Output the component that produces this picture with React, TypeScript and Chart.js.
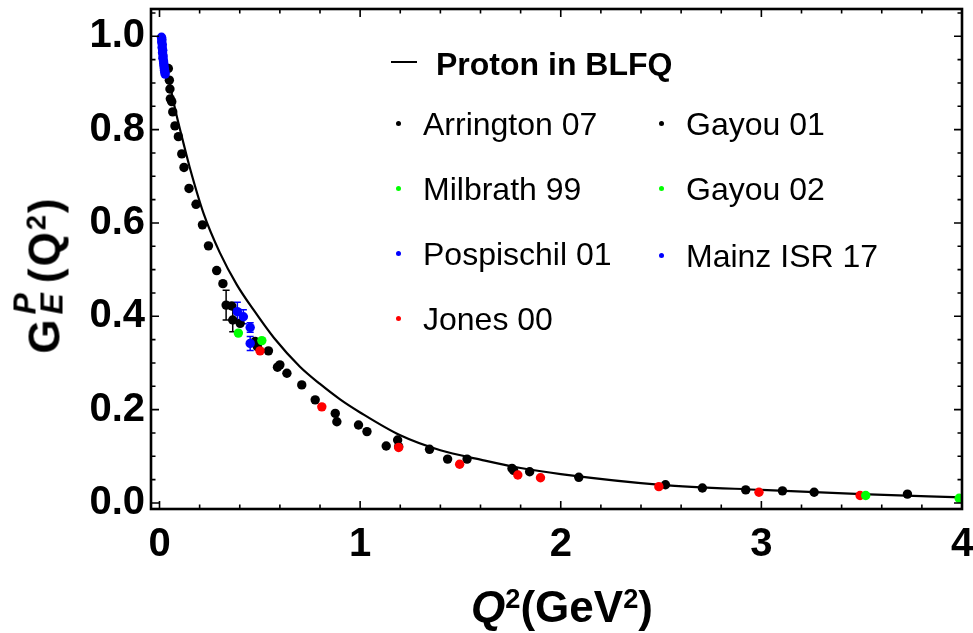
import React, { useEffect, useRef } from 'react';
import { Chart, registerables } from 'chart.js';
Chart.register(...registerables);

const FONT = '"Liberation Sans", Arial, Helvetica, sans-serif';

// Axis ticks
const X_TICKS = [0, 1, 2, 3, 4];
const Y_TICKS = [0, 0.2, 0.4, 0.6, 0.8, 1.0];

// Proton in BLFQ (theory curve)
const BLFQ_Q2 = [0, 0.02, 0.05, 0.08, 0.12, 0.15, 0.22, 0.3, 0.385, 0.47, 0.57, 0.7, 0.8, 0.9, 1.0, 1.2, 1.4, 1.6, 1.8, 2.0, 2.5, 3.0, 3.5, 4.0];
const BLFQ_GE = [1.0, 0.96, 0.9, 0.84, 0.77, 0.72, 0.62, 0.537, 0.468, 0.413, 0.354, 0.292, 0.255, 0.222, 0.194, 0.145, 0.113, 0.093, 0.075, 0.062, 0.039, 0.028, 0.019, 0.012];

// Arrington 07 (black)
const ARRINGTON_Q2 = [0.044, 0.049, 0.052, 0.054, 0.061, 0.066, 0.077, 0.094, 0.111, 0.122, 0.147, 0.182, 0.214, 0.244, 0.285, 0.316, 0.332, 0.36, 0.365, 0.402, 0.477, 0.543, 0.588, 0.6, 0.635, 0.709, 0.876, 0.884, 0.992, 1.034, 1.13, 1.192, 1.346, 1.533, 1.765, 1.845, 2.09, 2.522, 2.706, 2.922, 3.105, 3.263, 3.728];
const ARRINGTON_GE = [0.931, 0.906, 0.887, 0.866, 0.86, 0.838, 0.808, 0.785, 0.748, 0.719, 0.674, 0.64, 0.596, 0.551, 0.498, 0.47, 0.424, 0.422, 0.392, 0.385, 0.346, 0.326, 0.291, 0.296, 0.278, 0.253, 0.192, 0.174, 0.167, 0.153, 0.122, 0.121, 0.115, 0.094, 0.07, 0.067, 0.055, 0.039, 0.032, 0.028, 0.026, 0.023, 0.019];
const ARRINGTON_ERR = [0, 0, 0, 0, 0, 0, 0, 0, 0, 0, 0, 0, 0, 0, 0, 0, 0.032, 0, 0.025, 0, 0, 0, 0, 0, 0, 0, 0, 0, 0, 0, 0, 0, 0, 0, 0, 0, 0, 0, 0, 0, 0, 0, 0];

// Gayou 01 (black)
const GAYOU01_Q2 = [0.488, 0.776, 1.187, 1.436, 1.757];
const GAYOU01_GE = [0.335, 0.221, 0.135, 0.094, 0.074];

// Milbrath 99 (green)
const MILBRATH_Q2 = [0.393, 0.51];
const MILBRATH_GE = [0.364, 0.348];

// Gayou 02 (green)
const GAYOU02_Q2 = [3.52, 3.986];
const GAYOU02_GE = [0.016, 0.01];

// Pospischil 01 (blue)
const POSPISCHIL_Q2 = [0.388, 0.418, 0.452, 0.452];
const POSPISCHIL_GE = [0.41, 0.399, 0.376, 0.342];
const POSPISCHIL_ERR = [0.02, 0.015, 0.01, 0.015];

// Mainz ISR 17 (blue)
const MAINZ_Q2 = [0.010, 0.012, 0.011, 0.014, 0.013, 0.016, 0.015, 0.018, 0.017, 0.020, 0.021, 0.022, 0.024, 0.025, 0.027, 0.028];
const MAINZ_GE = [0.998, 0.993, 0.988, 0.982, 0.976, 0.97, 0.965, 0.958, 0.953, 0.947, 0.942, 0.937, 0.931, 0.927, 0.923, 0.919];

// Jones 00 (red)
const JONES_Q2 = [0.501, 0.809, 1.192, 1.496, 1.786, 1.899, 2.489, 2.988, 3.492];
const JONES_GE = [0.326, 0.206, 0.119, 0.083, 0.06, 0.054, 0.035, 0.023, 0.016];

const BLACK = '#000000';
const GREEN = '#00ff00';
const BLUE = '#0000ff';
const RED = '#ff0000';

function pts(xs: number[], ys: number[], errs?: number[]) {
  return xs.map((x, i) => ({ x, y: ys[i], err: errs ? errs[i] : 0 }));
}

function scatterDs(label: string, xs: number[], ys: number[], color: string, errs?: number[]) {
  return {
    type: 'scatter' as const,
    label,
    data: pts(xs, ys, errs),
    backgroundColor: color,
    borderColor: color,
    borderWidth: 0,
    pointRadius: 4.7,
    pointHoverRadius: 4.7,
    showLine: false,
  };
}

const errorBarPlugin = {
  id: 'errorBars',
  beforeDatasetsDraw(chart: any) {
    const { ctx, scales } = chart;
    const xs = scales.x;
    const ys = scales.y;
    ctx.save();
    ctx.lineWidth = 1.5;
    chart.data.datasets.forEach((ds: any) => {
      ds.data.forEach((p: any) => {
        if (!p.err) return;
        const px = xs.getPixelForValue(p.x);
        const y1 = ys.getPixelForValue(p.y - p.err);
        const y2 = ys.getPixelForValue(p.y + p.err);
        ctx.strokeStyle = ds.borderColor;
        ctx.beginPath();
        ctx.moveTo(px, y1);
        ctx.lineTo(px, y2);
        ctx.moveTo(px - 3.5, y1);
        ctx.lineTo(px + 3.5, y1);
        ctx.moveTo(px - 3.5, y2);
        ctx.lineTo(px + 3.5, y2);
        ctx.stroke();
      });
    });
    ctx.restore();
  },
};

const framePlugin = {
  id: 'frameTicks',
  afterDatasetsDraw(chart: any) {
    const { ctx, chartArea, scales } = chart;
    const { left, right, top, bottom } = chartArea;
    const xs = scales.x;
    const ys = scales.y;
    ctx.save();
    ctx.strokeStyle = '#000';
    ctx.lineWidth = 1.6;
    ctx.beginPath();
    for (let i = 0; i <= 20; i++) {
      const v = i * 0.2;
      const major = i % 5 === 0;
      const len = major ? 8 : 4.5;
      const p = xs.getPixelForValue(v);
      ctx.moveTo(p, bottom);
      ctx.lineTo(p, bottom - len);
      ctx.moveTo(p, top);
      ctx.lineTo(p, top + len);
    }
    for (let i = 0; i <= 21; i++) {
      const v = i * 0.05;
      const major = i % 4 === 0;
      const len = major ? 8 : 4.5;
      const p = ys.getPixelForValue(v);
      ctx.moveTo(left, p);
      ctx.lineTo(left + len, p);
      ctx.moveTo(right, p);
      ctx.lineTo(right - len, p);
    }
    ctx.stroke();
    ctx.lineWidth = 2.6;
    ctx.strokeRect(left, top, right - left, bottom - top);
    ctx.restore();
  },
};

const tickFont = { family: FONT, size: 40, weight: 'bold' as const };

function zeroPad(s: any) {
  s.paddingLeft = 0;
  s.paddingRight = 0;
  s.paddingTop = 0;
  s.paddingBottom = 0;
}

export default function App() {
  const ref = useRef<HTMLCanvasElement>(null);
  useEffect(() => {
    document.body.style.margin = '0';
    const canvas = ref.current!;
    const chart = new Chart(canvas, {
      type: 'scatter',
      data: {
        datasets: [
          scatterDs('Mainz ISR 17', MAINZ_Q2, MAINZ_GE, BLUE),
          scatterDs('Gayou 02', GAYOU02_Q2, GAYOU02_GE, GREEN),
          scatterDs('Pospischil 01', POSPISCHIL_Q2, POSPISCHIL_GE, BLUE, POSPISCHIL_ERR),
          scatterDs('Milbrath 99', MILBRATH_Q2, MILBRATH_GE, GREEN),
          scatterDs('Jones 00', JONES_Q2, JONES_GE, RED),
          scatterDs('Gayou 01', GAYOU01_Q2, GAYOU01_GE, BLACK),
          scatterDs('Arrington 07', ARRINGTON_Q2, ARRINGTON_GE, BLACK, ARRINGTON_ERR),
          {
            type: 'line' as const,
            label: 'Proton in BLFQ',
            data: pts(BLFQ_Q2, BLFQ_GE),
            borderColor: BLACK,
            backgroundColor: BLACK,
            borderWidth: 2.2,
            pointRadius: 0,
            showLine: true,
            fill: false,
            cubicInterpolationMode: 'monotone' as const,
          } as any,
        ],
      },
      options: {
        responsive: false,
        animation: false,
        devicePixelRatio: 1,
        layout: { padding: { top: 9, right: 11, left: 0, bottom: 0 } },
        plugins: { legend: { display: false }, tooltip: { enabled: false } },
        scales: {
          x: {
            type: 'linear',
            min: -0.0424,
            max: 4.0,
            grid: { display: false, drawTicks: false },
            border: { display: false },
            afterBuildTicks: (s: any) => { s.ticks = X_TICKS.map((v) => ({ value: v })); },
            afterFit: (s: any) => { s.height = 124; zeroPad(s); },
            ticks: {
              color: '#000',
              font: tickFont,
              padding: 12,
              maxRotation: 0,
              callback: (v: any) => String(v),
            },
          },
          y: {
            type: 'linear',
            min: -0.0129,
            max: 1.0585,
            grid: { display: false, drawTicks: false },
            border: { display: false },
            afterBuildTicks: (s: any) => { s.ticks = Y_TICKS.map((v) => ({ value: v })); },
            afterFit: (s: any) => { s.width = 151; zeroPad(s); },
            ticks: {
              color: '#000',
              font: tickFont,
              padding: 6,
              callback: (v: any) => Number(v).toFixed(1),
            },
          },
        },
      },
      plugins: [errorBarPlugin, framePlugin],
    } as any);
    return () => chart.destroy();
  }, []);

  const legendText: React.CSSProperties = {
    position: 'absolute',
    fontFamily: FONT,
    fontSize: 32,
    lineHeight: '32px',
    whiteSpace: 'nowrap',
    color: '#000',
  };
  const dot = (x: number, y: number, c: string) => (
    <div style={{ position: 'absolute', left: x - 2.5, top: y - 2.5, width: 5, height: 5, borderRadius: '50%', background: c }} />
  );
  const rows: [string, string, number, number][] = [
    ['Arrington 07', BLACK, 0, 135],
    ['Milbrath 99', GREEN, 0, 200],
    ['Pospischil 01', BLUE, 0, 265],
    ['Jones 00', RED, 0, 330],
    ['Gayou 01', BLACK, 1, 135],
    ['Gayou 02', GREEN, 1, 200],
    ['Mainz ISR 17', BLUE, 1, 267],
  ];
  const sup: React.CSSProperties = { position: 'relative', top: '-0.5em', fontSize: '0.62em' };

  return (
    <div style={{ position: 'relative', width: 973, height: 633, background: '#fff', overflow: 'hidden' }}>
      <canvas ref={ref} width={973} height={633} style={{ position: 'absolute', left: 0, top: 0, width: 973, height: 633 }} />
      {/* Legend */}
      <div style={{ position: 'absolute', left: 391, top: 61, width: 26, height: 2.4, background: '#000' }} />
      <div style={{ ...legendText, left: 436, top: 75 - 27, fontWeight: 'bold' }}>Proton in BLFQ</div>
      {rows.map(([t, c, col, base]) => (
        <React.Fragment key={t}>
          {dot(col === 0 ? 398 : 661, base - 12, c)}
          <div style={{ ...legendText, left: col === 0 ? 423 : 686, top: base - 27 }}>{t}</div>
        </React.Fragment>
      ))}
      {/* X title */}
      <div style={{ position: 'absolute', left: 562, top: 585, transform: 'translateX(-50%)', fontFamily: FONT, fontSize: 44, lineHeight: '44px', fontWeight: 'bold', whiteSpace: 'nowrap' }}>
        <i>Q</i><span style={sup}>2</span>(GeV<span style={sup}>2</span>)
      </div>
      {/* Y title */}
      <div style={{ position: 'absolute', left: 44, top: 275, transform: 'translate(-50%, -50%) rotate(-90deg)', fontFamily: FONT, fontSize: 44, lineHeight: '44px', fontWeight: 'bold', whiteSpace: 'nowrap', letterSpacing: 2 }}>
        G<span style={{ position: 'relative', display: 'inline-block', width: '0.78em', height: '1em', verticalAlign: 'baseline' }}>
          <i style={{ position: 'absolute', left: 3, top: '-0.4em', fontSize: '0.72em' }}>P</i>
          <i style={{ position: 'absolute', left: 3, top: '0.45em', fontSize: '0.72em' }}>E</i>
        </span>(Q<span style={sup}>2</span>)
      </div>
    </div>
  );
}
